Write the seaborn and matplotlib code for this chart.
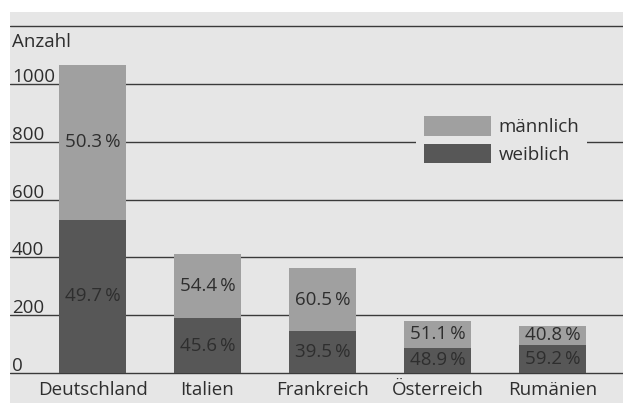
import matplotlib
matplotlib.use("Agg")
import matplotlib.pyplot as plt
import matplotlib.transforms as mtransforms
from matplotlib.patches import Patch
import seaborn as sns
import pandas as pd

# -----------------------------
# Data
# -----------------------------
countries = ["Deutschland", "Italien", "Frankreich", "Österreich", "Rumänien"]
weiblich = [530, 188, 143, 87, 96]
maennlich = [536, 224, 219, 91, 66]
pct_weiblich = ["49.7", "45.6", "39.5", "48.9", "59.2"]
pct_maennlich = ["50.3", "54.4", "60.5", "51.1", "40.8"]
yticks = [0, 200, 400, 600, 800, 1000]
grid_lines = [0, 200, 400, 600, 800, 1000, 1200]

df = pd.DataFrame({"Land": countries, "weiblich": weiblich, "männlich": maennlich})
df["gesamt"] = df["weiblich"] + df["männlich"]

# -----------------------------
# Style
# -----------------------------
sns.set_style("white")
plt.rcParams["font.family"] = ["Open Sans", "DejaVu Sans"]
bg = "#e6e6e6"
c_m = "#a0a0a0"
c_w = "#575757"
c_txt = "#2e2e2e"
fs = 13.5

fig = plt.figure(figsize=(6.23, 4.03), dpi=100)
fig.patch.set_facecolor("white")
ax = fig.add_axes([10 / 623, 0, 613 / 623, (403 - 12) / 403])
ax.set_facecolor(bg)

# bars: total (männlich on top) then weiblich over it
sns.barplot(data=df, x="Land", y="gesamt", color=c_m, width=0.58,
            saturation=1, linewidth=0, ax=ax, zorder=3)
sns.barplot(data=df, x="Land", y="weiblich", color=c_w, width=0.58,
            saturation=1, linewidth=0, ax=ax, zorder=3)

# scale: 0 at 372.7 px, 200 units = 57.7 px
ppu = 57.7 / 200
ax.set_ylim(-(403 - 372.7) / ppu, (372.7 - 12) / ppu)
ax.set_xlim(-82.5 / 115, (613 - 82.5) / 115)

for v in grid_lines:
    ax.axhline(v, color="#3a3a3a", lw=1.0, zorder=2)

trans = mtransforms.blended_transform_factory(ax.transAxes, ax.transData)
for v in yticks:
    ax.text(2 / 613, v + 7, str(v), transform=trans, ha="left", va="baseline",
            fontsize=fs, color=c_txt, zorder=4)
ax.text(2 / 613, 1129, "Anzahl", transform=trans, ha="left", va="baseline",
        fontsize=fs, color=c_txt, zorder=4)

# percent labels centred in segments
for i, row in df.iterrows():
    ax.text(i, row["weiblich"] / 2, pct_weiblich[i] + "\u2009%", ha="center",
            va="center", fontsize=fs, color=c_txt, zorder=4)
    ax.text(i, row["weiblich"] + row["männlich"] / 2, pct_maennlich[i] + "\u2009%",
            ha="center", va="center", fontsize=fs, color=c_txt, zorder=4)
    ax.text(i, -60, row["Land"], ha="center", va="center", fontsize=fs,
            color=c_txt, zorder=4)

handles = [Patch(facecolor=c_m, edgecolor="none", label="männlich"),
           Patch(facecolor=c_w, edgecolor="none", label="weiblich")]
leg = ax.legend(handles=handles, loc="upper left",
                bbox_to_anchor=((407 - 10) / 613, (403 - 99) / 391),
                frameon=True, facecolor=bg, edgecolor="none", framealpha=1,
                fancybox=False, fontsize=fs, handlelength=3.6, handleheight=1.25,
                handletextpad=0.4, labelspacing=0.4, borderpad=0.4,
                labelcolor=c_txt)
leg.set_zorder(5)

ax.set_xlabel("")
ax.set_ylabel("")
ax.set_xticks([])
ax.set_yticks([])
for s in ax.spines.values():
    s.set_visible(False)

fig.savefig("out.png", dpi=100)
